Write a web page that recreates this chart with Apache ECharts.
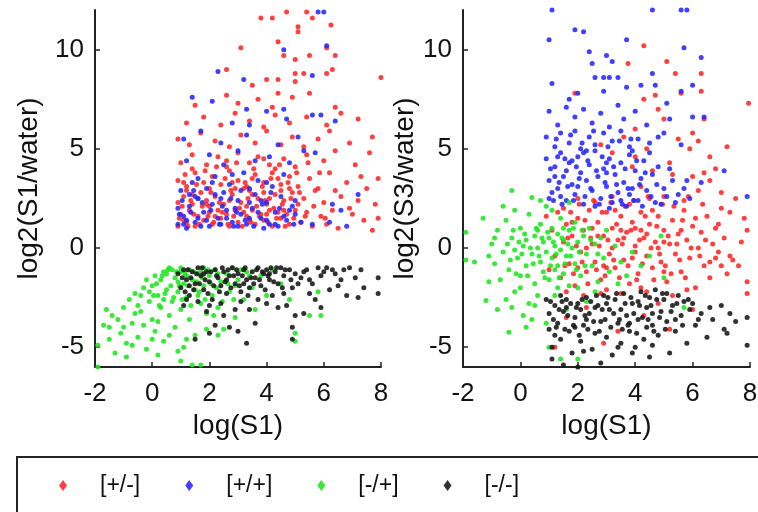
<!DOCTYPE html>
<html>
<head>
<meta charset="utf-8">
<script src="https://cdn.jsdelivr.net/npm/echarts@6/dist/echarts.min.js"></script>
<style>
html, body { margin: 0; padding: 0; background: #fff; }
#chart { width: 758px; height: 512px; }
</style>
</head>
<body>
<div id="chart"></div>
<script>
// legend names, in the order of the legend box
var classNames = ['[+/-]', '[+/+]', '[-/+]', '[-/-]'];
var classColors = ['#ff2626', '#2626ff', '#1ee61e', '#161616'];

var xTicks = [-2, 0, 2, 4, 6, 8];
var yTicks = [-5, 0, 5, 10];

// left panel: log(S1) vs log2(S1/water)
var leftPM = [
	[0.9,1.1],[1.2,1.3],[1.5,1.1],[1.8,1.4],[2.1,1.2],[2.4,1.5],[2.7,1.1],[3.0,1.3],[3.3,1.6],[3.6,1.2],[3.9,1.4],[4.2,1.1],[4.5,1.5],[4.8,1.2],[5.2,1.3],[5.6,1.1],[6.1,1.2],[6.5,1.0],[7.7,0.9],[7.9,1.5],
	[1.0,1.7],[1.3,1.9],[1.6,1.6],[2.0,1.8],[2.3,1.9],[2.6,1.7],[2.9,1.9],[3.2,1.8],[3.5,1.9],[3.8,1.7],[4.1,1.9],[4.4,1.8],[4.7,1.7],[5.0,1.9],[5.4,1.8],[5.9,1.6],[6.3,1.9],[7.0,1.7],
	[0.9,2.3],[1.1,2.6],[1.4,2.2],[1.7,2.8],[1.9,2.4],[2.2,2.6],[2.5,2.2],[2.8,2.7],[3.1,2.3],[3.4,2.9],[3.7,2.5],[4.0,2.2],[4.3,2.7],[4.6,2.4],[4.9,2.8],[5.3,2.5],[5.7,2.9],[6.0,2.3],[6.6,2.6],[7.2,2.4],[7.8,2.2],
	[1.2,2.9],[1.6,2.5],[2.0,2.1],[2.7,2.4],[3.3,2.1],[3.9,2.8],[4.5,2.9],[5.1,2.2],
	[0.9,3.4],[1.2,3.1],[1.5,3.8],[1.8,3.3],[2.1,3.6],[2.4,3.2],[2.7,3.9],[3.0,3.4],[3.3,3.1],[3.6,3.7],[3.9,3.3],[4.2,3.8],[4.5,3.2],[4.8,3.6],[5.1,3.1],[5.5,3.5],[5.8,3.0],[6.2,3.8],[6.8,3.3],[7.3,3.6],[7.9,3.5],
	[2.0,3.0],[3.5,3.5],[4.4,3.5],[1.1,1.4],[2.2,1.6],[3.4,1.4],[4.6,1.9],[1.4,2.7],[2.9,3.0],[4.1,2.5],[4.8,3.0],
	[0.95,1.5],[1.05,2.1],[1.15,3.7],[1.25,1.1],[1.35,2.4],[1.45,1.7],[1.55,3.2],[1.65,1.2],[1.75,2.1],[1.85,3.9],[1.95,1.6],[2.05,2.8],[2.15,1.3],[2.25,4.1],[2.35,2.3],[2.45,1.8],[2.55,3.5],[2.65,1.2],[2.75,2.9],[2.85,1.6],
	[2.95,4.3],[3.05,2.0],[3.15,1.1],[3.25,3.3],[3.35,2.5],[3.45,1.3],[3.55,4.0],[3.65,2.1],[3.75,1.6],[3.85,3.1],[3.95,2.4],[4.05,1.3],[4.15,3.5],[4.25,2.0],[4.35,1.5],[4.45,4.2],[4.55,2.2],[4.65,1.1],[4.75,3.3],[4.85,2.5],
	[4.95,1.5],[5.05,3.8],[5.15,2.8],[5.35,1.6],[5.45,4.3],[5.65,2.1],[5.85,3.8],[6.05,1.5],[6.4,2.9],[6.9,2.0],[7.5,3.0],[7.4,1.4],[1.1,3.3],[2.6,4.4],[3.9,4.5],[4.3,4.0],[3.2,3.0],[1.9,2.2],[2.8,3.3],[3.5,2.7],
	[4.0,1.7],[1.4,4.0],
	[1.0,4.3],[1.4,4.7],[1.9,4.2],[2.3,4.6],[2.6,4.1],[3.0,4.8],[3.4,4.3],[3.7,4.6],[4.1,4.2],[4.6,4.5],[5.0,4.1],[5.4,4.7],[6.0,4.4],[6.4,4.9],[7.1,4.2],[7.6,4.8],
	[0.9,5.5],[1.3,5.2],[1.7,5.8],[2.2,5.4],[2.7,5.1],[3.1,5.7],[3.6,5.3],[4.0,5.9],[4.5,5.2],[4.9,5.6],[5.3,5.1],[5.8,5.5],[6.2,5.9],[6.9,5.3],[7.7,5.6],
	[1.2,6.3],[1.8,6.6],[2.4,6.2],[2.9,6.8],[3.4,6.4],[3.9,6.1],[4.3,6.7],[4.8,6.3],[5.4,6.6],[6.1,6.2],[6.6,6.8],[7.2,6.5],
	[1.5,7.2],[2.6,7.7],[3.0,7.3],[3.7,7.5],[4.2,7.1],[4.9,7.6],[5.5,7.8],[6.4,7.1],[4.4,7.8],
	[2.6,9.0],[3.5,8.2],[4.0,8.5],[4.4,8.5],[5.0,8.4],[5.0,8.8],[5.3,8.8],[6.1,8.8],[6.3,9.0],[8.0,8.6],[4.6,9.7],[5.0,9.5],[5.5,9.7],[6.4,9.7],[3.1,10.1],
	[3.8,11.6],[4.2,11.6],[4.7,11.9],[5.4,11.9],[5.6,11.6],[6.25,11.25],[5.1,11.15],[5.1,10.9],[6.1,10.1],[4.4,10.4]
];
var leftPP = [
	[0.9,1.2],[1.1,1.6],[1.3,2.1],[1.5,1.3],[1.6,2.5],[1.8,1.8],[2.0,1.1],[2.1,2.2],[2.3,1.5],[2.5,2.8],[2.6,1.9],[2.8,1.3],[3.0,2.4],[3.1,1.7],[3.3,1.2],[3.5,2.0],[3.6,2.7],[3.8,1.5],[4.0,2.3],[4.1,1.2],[4.3,1.8],[4.5,2.6],[4.7,1.4],[4.9,2.1],[5.0,1.7],
	[1.0,2.9],[1.4,3.3],[1.9,3.0],[2.2,3.6],[2.7,3.2],[3.2,3.8],[3.7,3.4],[4.2,3.1],[4.6,3.7],[1.2,1.0],[1.7,1.1],[2.4,1.2],[3.4,1.5],[4.4,1.1],[0.9,2.0],[1.5,2.6],[2.9,2.0],[3.9,1.0],[5.2,1.3],[5.6,1.2],[6.2,1.3],[6.8,1.1],[6.3,2.2],[7.2,2.7],[6.6,1.9],
	[0.95,1.7],[1.05,2.4],[1.2,1.4],[1.35,1.8],[1.45,2.9],[1.6,1.5],[1.75,2.3],[1.9,1.4],[2.05,1.9],[2.2,2.7],[2.35,1.2],[2.45,2.1],[2.6,1.5],[2.75,2.5],[2.85,1.1],[2.95,1.8],[3.1,2.9],[3.25,1.4],[3.4,2.3],[3.55,1.1],
	[3.7,1.8],[3.85,2.2],[4.0,1.4],[4.15,2.8],[4.3,1.2],[4.45,2.0],[4.6,1.6],[4.8,1.9],[4.95,1.2],[5.0,2.4],[1.3,2.7],[2.1,3.3],[2.8,3.7],[3.4,3.0],[4.0,3.3],[1.6,3.5],[3.0,1.1],[2.4,2.5],[3.8,2.4],[1.1,1.2],
	[1.2,4.4],[2.0,4.7],[2.5,4.2],[3.0,4.9],[3.6,4.4],[4.1,4.6],[4.8,4.3],[5.3,4.9],[1.1,5.5],[1.7,5.9],[2.4,5.3],[3.3,5.7],[4.4,5.2],[5.1,5.6],[5.7,4.8],
	[2.8,6.3],[3.4,6.2],[4.0,6.9],[4.7,6.5],[5.6,6.7],[5.9,6.7],[6.4,6.4],[1.4,7.6],[2.1,7.4],[3.3,7.0],[4.6,7.0],
	[2.3,8.9],[3.2,8.5],[4.6,10.0],[5.6,8.7],[6.0,11.9],[5.8,11.9],[6.1,10.2]
];
var leftMP = [
	[-1.9,-4.9],[-1.9,-6.0],[-1.6,-3.1],[-1.4,-3.4],[-1.5,-4.0],[-1.2,-3.6],[-1.3,-5.3],[-1.0,-3.0],[-1.1,-4.3],[-0.9,-4.8],[-0.8,-2.6],[-0.7,-3.8],[-0.6,-2.3],[-0.5,-4.5],[-0.4,-3.2],[-0.3,-2.0],[-0.2,-5.1],[-0.1,-2.7],[0.0,-3.6],[0.0,-1.9],
	[0.1,-4.2],[0.2,-2.4],[0.3,-1.6],[0.3,-3.0],[0.4,-4.7],[0.5,-1.3],[0.5,-2.1],[0.6,-3.4],[0.7,-1.1],[0.7,-2.7],[0.8,-1.5],[0.8,-4.0],[0.9,-2.2],[1.0,-1.2],[1.0,-3.1],[1.1,-1.8],[1.1,-5.0],[1.2,-2.5],[1.3,-1.1],[1.3,-3.6],
	[1.4,-1.6],[1.5,-2.1],[1.5,-4.4],[1.6,-1.3],[1.7,-2.8],[1.8,-1.0],[1.8,-1.9],[1.9,-3.3],[2.0,-1.4],[2.1,-2.4],[2.2,-1.1],[2.3,-3.0],[2.4,-1.7],[2.5,-4.1],[2.6,-1.3],[2.7,-2.2],[2.8,-1.0],[2.9,-3.5],[3.0,-1.6],[3.2,-2.6],
	[3.3,-1.2],[3.5,-2.0],[3.6,-3.1],[3.8,-1.4],[4.0,-2.4],[4.2,-1.1],[4.5,-1.8],[4.8,-2.6],[5.0,-4.3],[5.0,-4.7],[5.5,-3.4],[5.8,-2.2],[5.9,-3.4],[-0.2,-1.6],[-0.5,-2.9],[0.1,-1.4],[0.4,-2.6],[1.4,-5.9],[1.7,-5.9],[0.9,-5.2],
	[-0.9,-5.5],[0.6,-1.0],[1.2,-1.4],[2.3,-1.3],[1.6,-2.4],[2.9,-1.9],[3.4,-1.4],[0.2,-3.7],[-0.6,-3.3],[-1.7,-3.9],[0.4,-1.2],[1.0,-1.0],[1.7,-1.2],[0.9,-1.7],[-0.1,-2.2],
	[0.05,-2.4],[0.15,-1.8],[0.25,-2.9],[0.35,-1.4],[0.45,-2.3],[0.55,-1.1],[0.65,-1.9],[0.75,-2.5],[0.85,-1.2],[0.95,-1.9],[1.05,-2.6],[1.15,-1.3],[1.25,-1.9],[1.35,-2.9],[1.45,-1.2],[1.55,-1.7],[1.65,-2.2],[1.75,-1.5],[1.85,-2.6],[1.95,-1.1],
	[2.05,-1.8],[2.15,-3.4],[2.25,-2.0],[2.45,-2.7],[2.65,-1.8],[2.85,-2.6],[3.1,-1.1],[-0.3,-3.9],[-0.7,-4.9],[-1.0,-4.0],[0.0,-4.6],[0.6,-4.4],[1.2,-4.6],[0.2,-5.4],[-0.4,-2.4],[1.9,-4.1],[1.0,-5.7],[-1.5,-4.6],[2.3,-4.4]
];
var leftMM = [
	[0.9,-1.3],[1.0,-2.0],[1.1,-1.1],[1.2,-1.6],[1.3,-2.4],[1.4,-1.2],[1.5,-1.8],[1.6,-1.0],[1.7,-1.4],[1.8,-2.1],[1.9,-1.2],[2.0,-1.7],[2.1,-2.6],[2.2,-1.1],[2.3,-1.5],[2.4,-1.9],[2.5,-1.2],[2.6,-2.3],[2.7,-1.4],[2.8,-1.0],
	[2.9,-1.8],[3.0,-1.3],[3.1,-2.2],[3.2,-1.1],[3.3,-1.6],[3.4,-2.0],[3.5,-1.2],[3.6,-1.5],[3.7,-1.0],[3.8,-1.9],[3.9,-1.3],[4.0,-1.1],[4.1,-1.6],[4.2,-2.4],[4.3,-1.2],[4.4,-1.8],[4.5,-1.0],[4.6,-1.4],[4.8,-1.1],[4.9,-2.0],
	[5.0,-1.3],[5.2,-1.5],[5.4,-1.1],[5.6,-1.8],[5.8,-1.0],[6.0,-1.2],[6.3,-1.1],[6.6,-1.6],[6.9,-1.0],[7.1,-1.5],[7.3,-1.1],[7.4,-2.0],[7.9,-1.5],[7.9,-2.3],[6.8,-2.4],[7.2,-2.5],[5.7,-2.6],[4.7,-2.9],[3.6,-3.8],[3.3,-4.8],
	[4.9,-4.0],[4.9,-4.6],[5.0,-3.4],[5.3,-3.3],[5.9,-3.0],[4.6,-2.3],[2.7,-4.0],[2.2,-3.9],[2.5,-3.4],[1.9,-3.2],[2.9,-3.1],[3.4,-3.1],[4.0,-2.8],[1.6,-2.7],[1.1,-2.9],[2.0,-4.3],[3.0,-4.2],[1.5,-4.6],[2.4,-2.8],[3.7,-2.6],
	[4.4,-3.0],[6.2,-2.1],[5.5,-2.3],[6.5,-1.9],[1.3,-1.9],[2.6,-1.6],[3.2,-1.8],[1.8,-1.3],[4.1,-1.3],[5.1,-1.8],
	[1.05,-1.5],[1.15,-2.2],[1.25,-1.1],[1.35,-1.5],[1.45,-2.1],[1.55,-1.3],[1.65,-1.8],[1.75,-1.0],[1.85,-1.6],[1.95,-2.3],[2.05,-1.2],[2.15,-1.9],[2.25,-1.4],[2.35,-2.2],[2.45,-1.0],[2.55,-1.7],[2.65,-1.1],[2.75,-2.0],[2.85,-1.4],[2.95,-1.1],
	[3.05,-1.9],[3.15,-1.4],[3.25,-1.0],[3.35,-2.4],[3.45,-1.5],[3.55,-1.8],[3.65,-1.1],[3.75,-1.6],[3.85,-1.2],[3.95,-2.1],[4.05,-1.4],[4.15,-1.0],[4.25,-1.7],[4.35,-1.0],[4.55,-2.0],[4.65,-1.1],[4.85,-1.6],[5.3,-1.2],[5.5,-1.6],[5.9,-1.4],
	[6.1,-1.0],[6.4,-1.3],[6.7,-1.1],[1.2,-2.6],[2.0,-2.9],[3.1,-2.7]
];

// right panel: log(S1) vs log2(S3/water)
var rightPM = [
	[3.75,9.3],[4.3,10.2],[5.1,9.4],[5.4,8.8],[6.3,8.8],[6.3,7.9],[1.9,7.8],[4.7,7.7],[5.6,7.8],[4.8,7.0],[7.95,7.3],[6.4,6.5],[5.0,6.5],[7.2,5.1],[6.0,5.8],[4.0,6.0],[5.5,5.5],[3.6,5.6],[4.4,5.0],[5.9,5.0],
	[6.6,4.6],[3.2,4.8],[4.0,4.6],[6.8,4.0],[5.2,4.3],[2.8,5.2],[6.2,5.4],[4.3,7.5],
	[3.9,4.1],[4.6,3.9],[5.3,3.7],[6.0,3.6],[6.4,3.8],[6.6,3.4],[7.0,2.8],[7.5,2.5],[7.8,1.5],[7.9,0.9],[6.2,2.9],[5.7,2.4],[5.0,2.6],[4.5,2.5],[3.8,2.2],[3.2,2.6],[2.6,2.3],[2.0,2.5],[1.5,2.0],[4.2,3.1],
	[7.3,1.8],[7.0,2.0],[6.9,1.2],[7.6,-0.9],[7.9,-1.7],[7.9,-2.3],[7.4,-0.6],[7.2,-1.3],[6.8,-0.5],
	[0.9,1.6],[1.1,0.9],[1.2,-0.4],[1.3,1.8],[1.4,-1.5],[1.5,0.3],[1.6,1.2],[1.7,-0.8],[1.8,0.6],[1.9,-1.9],[2.0,1.5],[2.1,-0.2],[2.2,0.9],[2.3,-1.2],[2.4,1.9],[2.5,0.2],[2.6,-0.7],[2.7,1.3],[2.8,-1.6],[2.9,0.6],
	[3.0,1.8],[3.1,-0.3],[3.2,1.0],[3.3,-1.0],[3.4,0.4],[3.5,1.6],[3.6,-0.6],[3.7,0.8],[3.8,-1.8],[3.9,1.3],[4.0,0.1],[4.1,-1.3],[4.2,1.8],[4.3,0.5],[4.4,-0.4],[4.5,1.2],[4.6,-1.0],[4.7,0.3],[4.8,1.6],[4.9,-0.7],
	[5.0,0.9],[5.1,-1.7],[5.2,0.2],[5.3,1.4],[5.4,-0.3],[5.5,0.7],[5.6,-1.2],[5.7,1.9],[5.8,0.4],[5.9,-0.5],[6.0,1.1],[6.1,-2.0],[6.2,0.0],[6.3,0.8],[6.4,-0.9],[6.5,1.6],[6.7,0.2],[6.9,-0.2],[7.1,0.5],[7.3,-0.4],
	[7.7,0.3],[1.0,-1.1],[1.6,-2.2],[2.2,-2.4],[3.0,-2.1],[3.5,-2.3],[4.4,-2.2],[5.3,-2.4],[5.8,-2.1],[2.5,1.0],[3.2,0.0],[3.9,-0.5],[4.2,0.9],[4.8,0.0],[5.6,0.9],[2.9,-0.9],[3.6,0.5],[4.6,1.9],[1.8,1.3],[2.0,-1.0],
	[6.6,-1.5],[5.0,-1.2],[4.0,1.0],[3.3,1.9],[2.7,0.6],
	[1.55,-0.9],[1.65,0.5],[1.75,1.8],[1.85,-1.3],[1.95,0.1],[2.05,2.2],[2.15,-0.7],[2.25,1.4],[2.35,-1.8],[2.45,0.5],[2.55,2.4],[2.65,-1.1],[2.75,0.1],[2.85,1.8],[2.95,-1.4],[3.05,0.4],[3.15,2.3],[3.25,-0.6],[3.35,1.2],[3.45,-1.5],
	[3.55,0.2],[3.65,2.1],[3.75,-0.9],[3.85,0.9],[3.95,2.4],[4.05,-1.6],[4.15,0.4],[4.25,-0.8],[4.35,1.6],[4.45,2.6],[4.55,0.0],[4.65,-1.6],[4.75,1.1],[4.85,-0.3],[4.95,2.2],[5.05,-0.9],[5.15,0.6],[5.25,-1.3],[5.35,2.1],[5.45,0.2],
	[5.55,-0.6],[5.65,1.4],[5.75,-1.5],[5.85,2.6],[5.95,0.0],[6.1,1.5],[6.25,-0.4],[6.35,2.2],[6.45,0.4],[6.6,-0.7],[6.8,1.0],[7.0,-0.9],[3.0,-1.0],[4.0,-0.2],[2.3,0.0],[5.0,0.3],[3.5,0.9],[4.4,0.7],[2.8,-2.3],[4.2,-2.0],
	[1.6,-3.5],[2.9,-4.8],[3.4,-4.2],[4.3,-3.4],[5.2,-4.1],[6.0,-3.1],[2.3,-3.0],[1.2,-5.0],[4.8,-2.8]
];
var rightPP = [
	[1.1,12.0],[4.6,12.0],[5.6,12.0],[5.8,12.0],[1.0,10.5],[1.9,11.0],[2.4,9.9],[2.5,9.3],[3.0,9.7],[3.2,9.4],[3.7,10.5],[3.7,8.1],[2.6,8.6],[2.9,8.6],[3.1,8.6],[3.4,8.6],[1.1,8.3],[5.7,10.1],[6.3,9.6],[4.6,8.8],
	[4.7,8.2],[5.6,7.9],[6.0,8.2],[6.0,6.6],[7.1,3.9],[7.9,2.6],[2.2,10.9],[1.7,7.5],[2.0,7.8],[2.9,7.9],[4.2,8.2],[5.1,7.3],
	[1.0,6.9],[1.3,6.2],[1.6,7.1],[1.9,6.6],[2.2,7.0],[2.5,6.3],[2.8,6.8],[3.1,6.1],[3.4,7.2],[3.6,6.5],[4.0,6.9],[4.4,6.2],[4.8,5.6],[5.2,6.5],[5.6,5.2],[6.4,6.6],
	[0.9,5.6],[1.2,5.1],[1.4,5.8],[1.7,5.3],[1.9,5.9],[2.1,5.0],[2.4,5.6],[2.6,5.2],[2.9,5.8],[3.2,5.4],[3.5,5.9],[3.8,5.1],[4.1,5.5],[4.5,5.3],[5.0,5.8],
	[0.9,4.5],[1.0,3.4],[1.1,2.8],[1.2,4.1],[1.3,3.0],[1.4,4.8],[1.5,3.6],[1.6,2.4],[1.7,4.3],[1.8,3.2],[1.9,2.7],[2.0,4.6],[2.1,3.8],[2.2,2.2],[2.3,3.4],[2.4,4.2],[2.5,2.9],[2.6,4.9],[2.7,3.6],[2.8,2.5],
	[2.9,4.0],[3.0,3.1],[3.1,4.5],[3.2,2.3],[3.3,3.7],[3.4,2.8],[3.5,4.3],[3.6,3.3],[3.7,2.1],[3.8,4.7],[3.9,3.0],[4.0,3.9],[4.1,2.4],[4.2,3.5],[4.3,4.4],[4.4,2.9],[4.6,3.7],[4.7,2.3],[4.8,4.1],[5.0,3.0],
	[5.1,2.6],[5.3,3.4],[5.5,2.7],[5.8,3.4],[5.9,2.5],[6.3,3.3],[1.2,3.6],[1.6,3.9],[2.0,3.1],[2.6,2.1],[3.1,2.0],[3.5,2.4],[4.5,4.8],[1.4,2.6],[2.3,4.9],[3.0,3.8],[3.8,2.7],[1.8,4.4],
	[1.05,4.0],[1.15,2.4],[1.25,5.5],[1.35,3.3],[1.45,2.2],[1.55,4.5],[1.65,3.1],[1.75,5.7],[1.85,2.4],[1.95,4.1],[2.05,3.5],[2.15,5.3],[2.25,2.6],[2.35,4.4],[2.45,3.0],[2.55,5.9],[2.65,3.9],[2.75,2.2],[2.85,4.6],[2.95,3.3],
	[3.05,5.1],[3.15,2.6],[3.25,4.1],[3.35,3.2],[3.45,5.4],[3.55,2.2],[3.65,4.0],[3.75,3.0],[3.85,5.5],[3.95,2.4],[4.05,4.4],[4.15,3.2],[4.25,2.1],[4.35,3.8],[4.55,2.6],[4.75,3.2],[4.9,2.2],[5.2,4.0],[5.4,2.3],[5.7,3.0],
	[1.3,4.6],[2.2,4.8],[3.0,4.3],[3.9,4.9],[1.0,2.5]
];
var rightMP = [
	[-1.3,1.5],[-1.2,-2.65],[-0.3,2.9],[-0.4,-4.25],[0.2,-4.0],[0.4,2.55],[1.4,-5.6],[2.0,-5.6],[5.0,-1.5],[5.7,-3.0],[-1.0,0.2],[-0.9,-0.8],[-0.8,0.9],[-0.7,-1.6],[-0.6,-0.2],[-0.5,1.4],[-0.4,-1.1],[-0.3,0.5],[-0.2,-2.2],[-0.1,-0.5],
	[0.0,1.0],[0.0,-1.4],[0.1,0.1],[0.2,-0.9],[0.3,1.7],[0.3,-2.8],[0.4,-0.3],[0.5,0.6],[0.5,-1.8],[0.6,0.0],[0.7,-0.7],[0.7,1.2],[0.8,-1.2],[0.8,0.3],[0.9,-0.2],[0.9,2.1],[1.0,0.5],[1.0,-1.6],[1.1,-0.5],[1.1,1.0],
	[1.2,0.1],[1.2,-2.4],[1.3,-0.9],[1.3,0.7],[1.4,-0.1],[1.4,1.5],[1.5,-1.3],[1.5,0.4],[1.6,-0.4],[1.7,0.9],[1.7,-1.9],[1.8,0.0],[1.9,-0.8],[1.9,1.3],[2.0,0.3],[2.1,-1.4],[2.2,0.6],[2.3,-0.3],[2.4,1.0],[2.5,-0.9],
	[2.6,0.2],[2.7,-1.7],[2.8,0.5],[2.9,-0.5],[3.0,0.9],[3.1,-1.2],[3.3,0.1],[3.5,-0.7],[3.7,-1.4],[3.9,-0.2],[4.2,-0.9],[4.5,-0.4],[4.9,0.6],[-1.6,-0.7],[-1.9,-0.6],[-1.9,0.8],[-1.1,-1.7],[-0.8,-3.1],[-0.6,2.1],[-0.2,1.9],
	[0.1,-3.4],[0.6,-2.4],[1.6,-3.1],[2.3,-2.7],[0.9,-3.8],[1.7,2.3],[1.1,1.9],[0.4,-3.6],[-0.5,-2.6],[1.0,-5.0],[2.6,-2.2],[3.4,-1.8],[2.0,-2.0],[0.6,0.9],[1.5,1.0],[0.2,0.4],[-0.2,-0.1],[1.2,-1.1],
	[-0.45,0.2],[-0.35,-0.6],[-0.25,0.9],[-0.15,-1.3],[-0.05,0.3],[0.05,-0.3],[0.15,0.7],[0.25,-1.4],[0.35,0.0],[0.45,-0.8],[0.55,1.0],[0.65,-0.4],[0.75,0.5],[0.85,-1.5],[0.95,0.8],[1.05,-0.9],[1.15,0.3],[1.25,-0.3],[1.35,-1.5],[1.45,0.5],
	[1.55,-0.8],[1.65,0.2],[1.75,-0.4],[1.85,1.0],[1.95,-1.1],[2.05,-0.2],[2.15,0.9],[2.25,-0.9],[2.45,0.4],[2.7,-0.3],[-0.9,0.5],[-1.1,-0.4],[0.0,-2.0],[0.5,-2.9],[1.3,-2.0],[-0.3,-3.0],[0.7,2.4]
];
var rightMM = [
	[0.9,-2.6],[1.0,-3.3],[1.0,-4.1],[1.1,-5.0],[1.1,-5.6],[1.2,-2.9],[1.3,-3.8],[1.4,-4.6],[1.5,-3.2],[1.6,-2.6],[1.7,-4.2],[1.8,-5.3],[1.9,-3.5],[2.0,-2.8],[2.1,-4.7],[2.2,-3.9],[2.3,-2.5],[2.4,-3.3],[2.5,-5.1],[2.6,-4.3],
	[2.7,-2.9],[2.8,-3.7],[2.9,-2.4],[3.0,-4.5],[3.1,-3.1],[3.2,-5.4],[3.3,-2.6],[3.4,-3.8],[3.5,-4.8],[3.6,-2.3],[3.7,-3.4],[3.8,-4.2],[3.9,-2.8],[4.0,-5.0],[4.1,-3.6],[4.2,-2.2],[4.3,-4.6],[4.4,-3.0],[4.5,-2.5],[4.6,-3.9],
	[4.7,-2.1],[4.8,-4.4],[4.9,-3.2],[5.0,-2.6],[5.1,-3.7],[5.2,-5.3],[5.3,-2.9],[5.4,-4.2],[5.5,-2.4],[5.6,-3.4],[5.7,-2.7],[5.8,-4.8],[5.9,-3.1],[6.1,-3.9],[6.3,-3.3],[6.5,-4.5],[6.7,-3.6],[7.0,-2.9],[7.2,-4.3],[7.3,-3.3],
	[7.5,-3.7],[7.9,-3.5],[7.9,-4.9],[7.1,-4.1],[6.0,-2.8],[2.0,-6.0],[2.8,-5.8],[1.5,-5.9],[3.9,-5.3],[4.5,-5.5],[1.2,-4.4],[1.6,-3.0],[2.3,-3.6],[3.0,-2.8],[3.5,-3.1],[4.1,-2.7],[4.6,-3.3],[5.1,-2.3],[2.6,-3.0],[1.4,-2.4],
	[3.8,-3.8],[4.4,-4.0],[2.1,-3.1],[5.4,-3.6],[1.9,-4.0],
	[1.05,-2.7],[1.15,-3.6],[1.25,-4.0],[1.35,-3.1],[1.45,-2.7],[1.55,-4.1],[1.65,-3.4],[1.75,-2.8],[1.85,-3.9],[1.95,-3.0],[2.05,-4.4],[2.15,-2.6],[2.25,-3.4],[2.35,-4.1],[2.45,-2.7],[2.55,-3.7],[2.65,-2.4],[2.75,-4.2],[2.85,-3.1],[2.95,-3.6],
	[3.05,-2.5],[3.15,-4.0],[3.25,-3.3],[3.35,-2.3],[3.45,-3.6],[3.55,-4.1],[3.65,-2.8],[3.75,-3.9],[3.85,-2.5],[3.95,-3.3],[4.05,-4.3],[4.15,-2.9],[4.25,-3.5],[4.35,-2.4],[4.45,-3.6],[4.55,-2.9],[4.65,-4.2],[4.75,-2.6],[4.85,-3.5],[4.95,-2.3],
	[5.05,-4.1],[5.25,-3.2],[5.45,-2.8],[5.65,-3.9],[5.85,-2.6],[6.2,-3.6],[6.6,-3.0],[2.2,-5.2],[3.4,-5.0],[4.6,-4.9]
];

var font = "'Liberation Sans', Arial, sans-serif";

function makeX(idx) {
	return {
		type: 'value', gridIndex: idx, min: -2, max: 8, interval: 2,
		name: 'log(S1)', nameLocation: 'middle', nameGap: 45,
		nameTextStyle: { fontSize: 28, color: '#111', fontFamily: font },
		axisLine: { show: true, onZero: false, lineStyle: { color: '#222', width: 2 } },
		axisTick: { show: true, inside: true, length: 5, lineStyle: { color: '#222', width: 1.5 } },
		axisLabel: { fontSize: 26, color: '#111', margin: 14, fontFamily: font },
		splitLine: { show: false }
	};
}

function makeY(idx, title, gap) {
	return {
		type: 'value', gridIndex: idx, min: -6, max: 12,
		name: title, nameLocation: 'middle', nameGap: gap,
		nameTextStyle: { fontSize: 28, color: '#111', fontFamily: font },
		axisLine: { show: true, onZero: false, lineStyle: { color: '#222', width: 2 } },
		axisTick: { show: true, inside: true, length: 5, customValues: yTicks,
			lineStyle: { color: '#222', width: 1.5 } },
		axisLabel: { fontSize: 26, color: '#111', margin: 11, fontFamily: font,
			customValues: yTicks },
		splitLine: { show: false }
	};
}

function dots(name, k, idx, data) {
	return {
		name: name, type: 'scatter', xAxisIndex: idx, yAxisIndex: idx,
		symbol: 'circle', symbolSize: 5, data: data,
		itemStyle: { color: classColors[k], opacity: 0.88 },
		emphasis: { disabled: true }, silent: true
	};
}

var myChart = echarts.init(document.getElementById('chart'));
var option = {
	animation: false,
	backgroundColor: '#fff',
	textStyle: { fontFamily: font },
	grid: [
		{ left: 95, top: 10, width: 286, height: 357, outerBoundsMode: 'none' },
		{ left: 463, top: 10, width: 287, height: 357, outerBoundsMode: 'none' }
	],
	xAxis: [makeX(0), makeX(1)],
	yAxis: [makeY(0, 'log2(S1/water)', 52), makeY(1, 'log2(S3/water)', 37)],
	legend: {
		data: classNames,
		left: 17, top: 457, width: 1500,
		orient: 'horizontal',
		icon: 'diamond', itemWidth: 8, itemHeight: 11, itemGap: 45,
		padding: [17, 600, 40, 42],
		borderColor: '#222', borderWidth: 2,
		selectedMode: false,
		textStyle: { fontSize: 23, color: '#111', fontFamily: font, padding: [0, 0, 0, 28] }
	},
	series: [
		dots(classNames[0], 0, 0, leftPM),
		dots(classNames[1], 1, 0, leftPP),
		dots(classNames[2], 2, 0, leftMP),
		dots(classNames[3], 3, 0, leftMM),
		dots(classNames[0], 0, 1, rightPM),
		dots(classNames[1], 1, 1, rightPP),
		dots(classNames[2], 2, 1, rightMP),
		dots(classNames[3], 3, 1, rightMM)
	]
};
myChart.setOption(option);
</script>
</body>
</html>
